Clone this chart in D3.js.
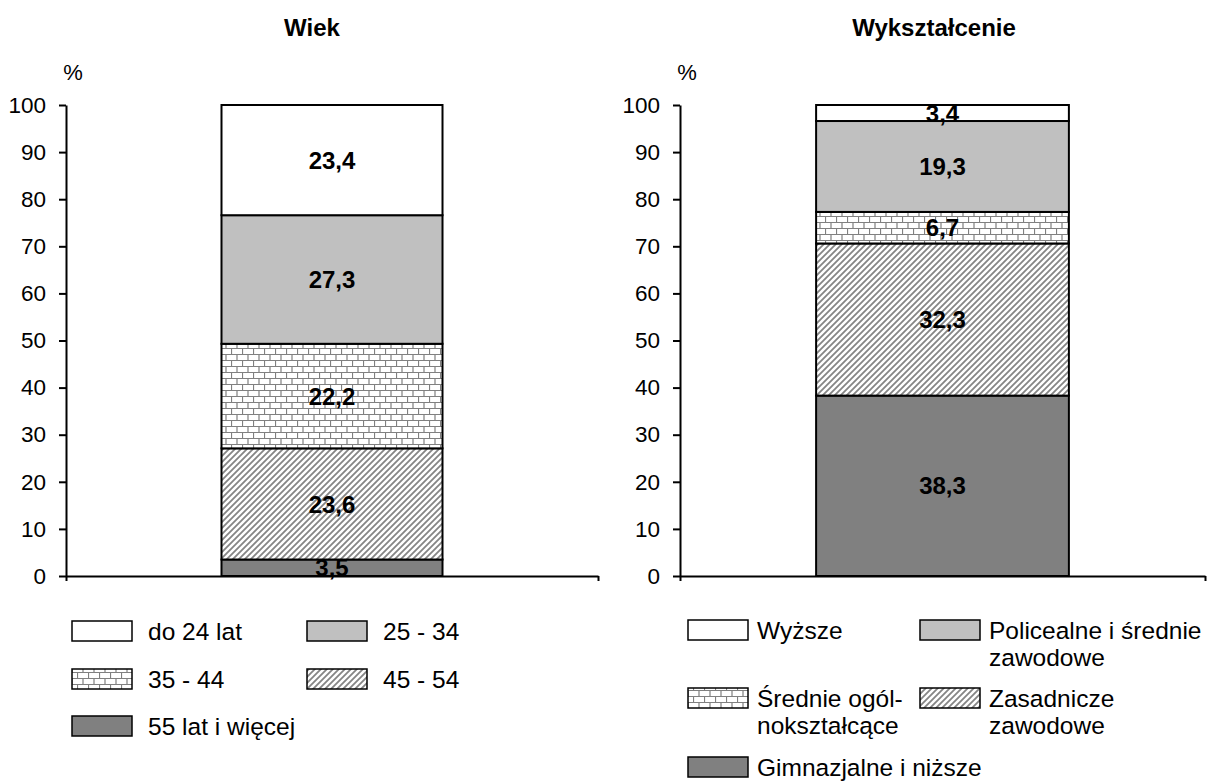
<!DOCTYPE html>
<html>
<head>
<meta charset="utf-8">
<script src="https://cdn.jsdelivr.net/npm/d3@7"></script>
<style>
  body { margin: 0; background: #fff; }
  svg { font-family: Arial, "Liberation Sans", sans-serif; }
</style>
</head>
<body>
<div id="chart"></div>
<script>
// stacks go bottom -> top
var wiekCats = ["55 lat i więcej", "45 - 54", "35 - 44", "25 - 34", "do 24 lat"];
var wiekVals = [3.5, 23.6, 22.2, 27.3, 23.4];
var wykCats = ["Gimnazjalne i niższe", "Zasadnicze zawodowe", "Średnie ogólnokształcące", "Policealne i średnie zawodowe", "Wyższe"];
var wykVals = [38.3, 32.3, 6.7, 19.3, 3.4];
var yTicks = [0, 10, 20, 30, 40, 50, 60, 70, 80, 90, 100];

// legend order and wrapped labels, as in the picture
var wiekLegend = [[4, ["do 24 lat"]], [3, ["25 - 34"]], [2, ["35 - 44"]], [1, ["45 - 54"]], [0, ["55 lat i więcej"]]];
var wykLegend = [[4, ["Wyższe"]], [3, ["Policealne i średnie", "zawodowe"]], [2, ["Średnie ogól-", "nokształcące"]], [1, ["Zasadnicze", "zawodowe"]], [0, ["Gimnazjalne i niższe"]]];

var fills = ["#808080", "url(#hatch)", "url(#brick)", "#c0c0c0", "#ffffff"];

var svg = d3.select("#chart").append("svg")
    .attr("width", 1217)
    .attr("height", 781);

// patterns
var defs = svg.append("defs");
var brick = defs.append("pattern").attr("id", "brick")
    .attr("patternUnits", "userSpaceOnUse")
    .attr("width", 11).attr("height", 12);
brick.append("rect").attr("width", 11).attr("height", 12).attr("fill", "#fff");
brick.append("path")
    .attr("d", "M0,0.5H11M0,6.5H11M0.5,0V6.5M6,6.5V12")
    .attr("stroke", "#808080").attr("stroke-width", 1.2).attr("fill", "none");

var hatch = defs.append("pattern").attr("id", "hatch")
    .attr("patternUnits", "userSpaceOnUse")
    .attr("width", 6).attr("height", 6);
hatch.append("rect").attr("width", 6).attr("height", 6).attr("fill", "#fff");
hatch.append("path")
    .attr("d", "M-1,1L1,-1M0,6L6,0M5,7L7,5")
    .attr("stroke", "#858585").attr("stroke-width", 1.8);

function drawChart(opts){
    var y = d3.scaleLinear().domain([0, 100]).range([576, 105]);
    var x = d3.scaleBand().domain([opts.title]).range([opts.x0, opts.x1])
        .paddingInner(opts.pad).paddingOuter(opts.pad);

    var g = svg.append("g");

    g.append("text")
        .attr("x", opts.titleX)
        .attr("y", 36)
        .attr("text-anchor", "middle")
        .attr("font-weight", "bold")
        .attr("font-size", 24)
        .text(opts.title);

    g.append("text")
        .attr("x", opts.x0 + 7)
        .attr("y", 80)
        .attr("text-anchor", "middle")
        .attr("font-size", 22)
        .text("%");

    // stacked segments
    var stack = [];
    var acc = 0;
    for(var i = 0; i < opts.vals.length; i++){
        stack.push({i: i, y0: acc, y1: acc + opts.vals[i], v: opts.vals[i]});
        acc += opts.vals[i];
    }

    g.selectAll(".seg").data(stack).enter().append("rect")
        .attr("x", x(opts.title))
        .attr("width", x.bandwidth())
        .attr("y", function(d){ return y(d.y1); })
        .attr("height", function(d){ return y(d.y0) - y(d.y1); })
        .attr("fill", function(d){ return fills[d.i]; })
        .attr("stroke", "#000")
        .attr("stroke-width", 2);

    g.selectAll(".lbl").data(stack).enter().append("text")
        .attr("x", x(opts.title) + x.bandwidth() / 2)
        .attr("y", function(d){ return (y(d.y0) + y(d.y1)) / 2; })
        .attr("dy", "0.36em")
        .attr("text-anchor", "middle")
        .attr("font-weight", "bold")
        .attr("font-size", 24)
        .text(function(d){ return String(d.v).replace(".", ","); });

    // axes
    var yAxis = g.append("g")
        .attr("transform", "translate(" + opts.x0 + ",0)")
        .call(d3.axisLeft(y).tickValues(yTicks).tickSize(7).tickPadding(13).tickSizeOuter(0));
    yAxis.select(".domain").attr("stroke-width", 2);
    yAxis.selectAll("line").attr("stroke-width", 2);
    yAxis.selectAll("text").attr("font-size", 22.5).attr("fill", "#000");

    var xl = d3.scaleLinear().domain([0, 1]).range([opts.x0, opts.x1]);
    var xAxis = g.append("g")
        .attr("transform", "translate(0,576)")
        .call(d3.axisBottom(xl).tickValues([0, 1]).tickSize(5).tickSizeOuter(0).tickFormat(""));
    xAxis.select(".domain").attr("stroke-width", 2);
    xAxis.selectAll("line").attr("stroke-width", 2);

    // legend
    opts.legend.forEach(function(item, k){
        var col = k % 2, row = Math.floor(k / 2);
        var bx = opts.legX[col], by = opts.legY[row];
        g.append("rect")
            .attr("x", bx).attr("y", by)
            .attr("width", 60).attr("height", 20)
            .attr("fill", fills[item[0]])
            .attr("stroke", "#000")
            .attr("stroke-width", 1.5);
        var t = g.append("text")
            .attr("y", by + 10)
            .attr("font-size", 24.5);
        item[1].forEach(function(line, j){
            t.append("tspan")
                .attr("x", bx + opts.legGap)
                .attr("dy", j == 0 ? "0.36em" : 27)
                .text(line);
        });
    });
}

drawChart({
    title: "Wiek", titleX: 312,
    vals: wiekVals, x0: 66, x1: 598, pad: 0.413,
    legend: wiekLegend, legX: [72, 307], legY: [621, 669, 716], legGap: 76
});

drawChart({
    title: "Wykształcenie", titleX: 934,
    vals: wykVals, x0: 680, x1: 1205, pad: 0.35,
    legend: wykLegend, legX: [688, 920], legY: [620, 688, 757], legGap: 69
});
</script>
</body>
</html>
